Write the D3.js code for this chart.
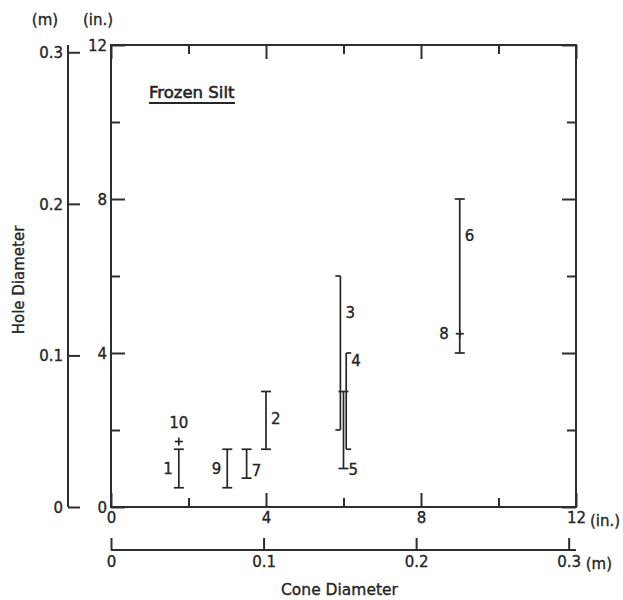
<!DOCTYPE html>
<html>
<head>
<meta charset="utf-8">
<script src="https://cdn.jsdelivr.net/npm/d3@7"></script>
<style>
  html, body { margin: 0; padding: 0; background: #fff; }
  svg text { font-family: "DejaVu Sans", "Liberation Sans", sans-serif; fill: #262626;
             stroke: #262626; stroke-width: 0.35px; }
  .axis path, .axis line { stroke: #2e2e2e; stroke-width: 2; }
</style>
</head>
<body>
<script>
// Hole diameter vs. cone diameter, frozen silt (inches, with metric scales)
const runs       = ["1", "9", "7", "2", "3", "4", "5", "6"];
const coneIn     = [1.75, 3.0, 3.5, 4.0, 5.92, 6.07, 6.0, 9.0];
const holeLowIn  = [0.5, 0.5, 0.75, 1.5, 2.0, 1.5, 1.0, 4.0];
const holeHighIn = [1.5, 1.5, 1.5, 3.0, 6.0, 4.0, 3.0, 8.0];

// single measurements
const pointRuns   = ["10", "8"];
const pointConeIn = [1.75, 9.0];
const pointHoleIn = [1.7, 4.5];

const inchTicks  = [0, 4, 8, 12];
const inchMinor  = [2, 6, 10];
const meterTicks = [0, 0.1, 0.2, 0.3];
const IN_TO_M = 0.0254;

// label placement: side of the bar and height (in.) of the label
const labelPlace = {
  "1": ["left", 1.0], "9": ["left", 1.0], "7": ["right", 0.95], "2": ["right", 2.3],
  "3": ["right", 5.05], "4": ["right", 3.8], "5": ["right", 0.98], "6": ["right", 7.05],
  "10": ["above", 2.2], "8": ["left", 4.5]
};
// bars drawn with one-sided caps
const capSide = { "3": "left", "4": "right" };

const W = 623, H = 600;
const svg = d3.select("body").append("svg").attr("width", W).attr("height", H);

const x = d3.scaleLinear().domain([0, 12]).range([111, 576]);
const y = d3.scaleLinear().domain([0, 12]).range([507, 45]);
const xm = d3.scaleLinear().domain([0, 12 * IN_TO_M]).range(x.range());
const ym = d3.scaleLinear().domain([0, 12 * IN_TO_M]).range(y.range());

const [x0, x1] = x.range();
const [y0, y1] = y.range();
const TICK_FONT = 15;

// plot frame
svg.append("rect")
  .attr("x", x0).attr("y", y1).attr("width", x1 - x0).attr("height", y0 - y1)
  .attr("fill", "none").attr("stroke", "#2e2e2e").attr("stroke-width", 2);

const fmt = d => String(d);
const noLabel = () => "";

function inchAxis(axisGen, transform, labels) {
  const vertical = axisGen === d3.axisLeft || axisGen === d3.axisRight;
  const sc = vertical ? y : x;
  const gMaj = svg.append("g").attr("class", "axis").attr("transform", transform)
    .call(axisGen(sc).tickValues(inchTicks).tickSizeInner(-14).tickSizeOuter(0)
      .tickPadding(labels ? 5 : 0).tickFormat(labels ? fmt : noLabel));
  gMaj.select(".domain").remove();
  const gMin = svg.append("g").attr("class", "axis").attr("transform", transform)
    .call(axisGen(sc).tickValues(inchMinor).tickSizeInner(-9).tickSizeOuter(0).tickFormat(noLabel));
  gMin.select(".domain").remove();
  return gMaj;
}

const gBottom = inchAxis(d3.axisBottom, `translate(0,${y0})`, true);
const gLeft = inchAxis(d3.axisLeft, `translate(${x0},0)`, true);
inchAxis(d3.axisTop, `translate(0,${y1})`, false);
inchAxis(d3.axisRight, `translate(${x1},0)`, false);

gBottom.selectAll("text").attr("font-size", TICK_FONT).attr("font-family", null);
gLeft.selectAll("text").attr("font-size", TICK_FONT).attr("font-family", null).attr("dy", "0.36em");
gLeft.selectAll(".tick text").attr("x", -4);

// metric scales
const gMy = svg.append("g").attr("class", "axis").attr("transform", "translate(68,0)")
  .call(d3.axisLeft(ym).tickValues(meterTicks).tickSizeInner(-12).tickSizeOuter(0)
    .tickPadding(5).tickFormat(d => d === 0 ? "0" : d3.format(".1f")(d)));
gMy.select(".domain").attr("d", `M0,${y0}V${y1}`);
gMy.selectAll("text").attr("font-size", TICK_FONT).attr("font-family", null).attr("dy", "0.36em");

const gMx = svg.append("g").attr("class", "axis").attr("transform", "translate(0,550)")
  .call(d3.axisBottom(xm).tickValues(meterTicks).tickSizeInner(-12).tickSizeOuter(0)
    .tickPadding(6).tickFormat(d => d === 0 ? "0" : d3.format(".1f")(d)));
gMx.select(".domain").attr("d", `M${x0},0H${x1}`);
gMx.selectAll("text").attr("font-size", TICK_FONT).attr("font-family", null);

// unit annotations
const unitText = (tx, ty, s, anchor) => svg.append("text").attr("x", tx).attr("y", ty)
  .attr("font-size", TICK_FONT).attr("text-anchor", anchor || "start").text(s);
unitText(x(12) + 14, 526, "(in.)");
unitText(xm(0.3) + 17, 569, "(m)");
unitText(45, 25, "(m)", "middle");
unitText(98, 25, "(in.)", "middle");

// axis titles
svg.append("text").attr("x", x(6) - 4).attr("y", 595).attr("text-anchor", "middle")
  .attr("font-size", 15.5).text("Cone Diameter");
svg.append("text").attr("transform", `translate(24,${y(6) + 4}) rotate(-90)`)
  .attr("text-anchor", "middle").attr("font-size", 15).text("Hole Diameter");

// panel title
const title = svg.append("text").attr("x", 149).attr("y", 98).attr("font-size", 16.5)
  .style("stroke-width", "0.6px").text("Frozen Silt");
const tb = title.node().getBBox();
svg.append("line").attr("x1", tb.x).attr("x2", tb.x + tb.width)
  .attr("y1", 103).attr("y2", 103).attr("stroke", "#262626").attr("stroke-width", 2);

// range bars
const bars = runs.map((r, i) => ({ run: r, cone: coneIn[i], lo: holeLowIn[i], hi: holeHighIn[i] }));
const barG = svg.append("g").attr("stroke", "#262626").attr("stroke-width", 1.7).attr("fill", "none");
const capW = 5;
bars.forEach(b => {
  const cx = x(b.cone);
  barG.append("line").attr("x1", cx).attr("x2", cx).attr("y1", y(b.lo)).attr("y2", y(b.hi));
  const side = capSide[b.run];
  const l = side === "right" ? 0 : capW, r = side === "left" ? 0 : capW;
  [b.lo, b.hi].forEach(v => {
    barG.append("line").attr("x1", cx - l).attr("x2", cx + r).attr("y1", y(v)).attr("y2", y(v));
  });
});

// single points as crosses
const pts = pointRuns.map((r, i) => ({ run: r, cone: pointConeIn[i], hole: pointHoleIn[i] }));
pts.forEach(p => {
  const cx = x(p.cone), cy = y(p.hole);
  barG.append("line").attr("x1", cx - 4).attr("x2", cx + 4).attr("y1", cy).attr("y2", cy);
  barG.append("line").attr("x1", cx).attr("x2", cx).attr("y1", cy - 4).attr("y2", cy + 4);
});

// run numbers
const labelItems = bars.map(b => ({ run: b.run, cone: b.cone }))
  .concat(pts.map(p => ({ run: p.run, cone: p.cone })));
labelItems.forEach(it => {
  const [side, hv] = labelPlace[it.run];
  const cx = x(it.cone);
  const t = svg.append("text").attr("font-size", 15).attr("y", y(hv)).attr("dy", "0.36em").text(it.run);
  if (side === "left") t.attr("x", cx - (it.run === "8" ? 11 : 6)).attr("text-anchor", "end");
  else if (side === "right") t.attr("x", cx + 5).attr("text-anchor", "start");
  else t.attr("x", cx).attr("text-anchor", "middle");
});
</script>
</body>
</html>
